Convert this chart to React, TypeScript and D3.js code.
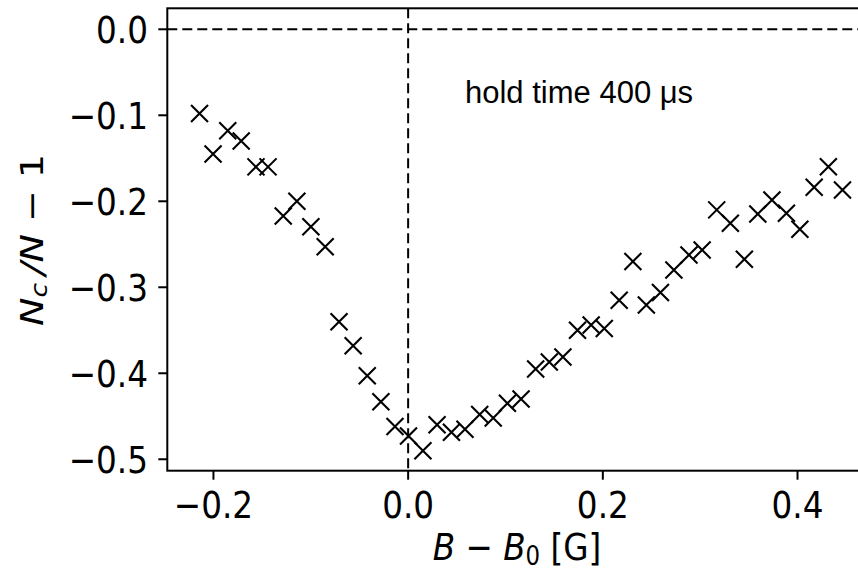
import React from "react";
import * as d3 from "d3";

const bField: number[] = [-0.2143,-0.2004,-0.1853,-0.1715,-0.1563,-0.1439,-0.1283,-0.1143,-0.0999,-0.0852,-0.071,-0.0565,-0.042,-0.028,-0.0135,0.0004,0.0152,0.0297,0.0445,0.0584,0.0735,0.0874,0.102,0.116,0.131,0.145,0.159,0.174,0.188,0.2015,0.2168,0.2309,0.2447,0.2592,0.273,0.2885,0.302,0.317,0.331,0.3454,0.3592,0.3737,0.3886,0.4024,0.4171,0.4317,0.4462];
const ratio: number[] = [-0.098,-0.145,-0.118,-0.130,-0.160,-0.160,-0.217,-0.200,-0.2295,-0.2528,-0.340,-0.368,-0.403,-0.433,-0.462,-0.473,-0.490,-0.460,-0.4686,-0.465,-0.448,-0.452,-0.435,-0.430,-0.395,-0.387,-0.381,-0.350,-0.344,-0.348,-0.315,-0.270,-0.3206,-0.306,-0.280,-0.2624,-0.2566,-0.210,-0.2256,-0.2674,-0.2148,-0.1985,-0.214,-0.2326,-0.1837,-0.1598,-0.1869];
const xTicks: number[] = [-0.2, 0.0, 0.2, 0.4];
const yTicks: number[] = [0.0, -0.1, -0.2, -0.3, -0.4, -0.5];
const annotation = "hold time 400 μs";

const W = 858, H = 570;
const L = 167.3, R = 868, T = 8.3, B = 470.7;

const fmt = (v: number) => {
  const s = Math.abs(v).toFixed(1);
  return v < -1e-9 ? "\u2212" + s : s;
};

export default function App() {
  const x = d3.scaleLinear().domain([-0.2474, 0.4724]).range([L, R]);
  const y = d3.scaleLinear().domain([-0.5133, 0.0244]).range([B, T]);
  const tickFont = "DejaVu Sans";
  const fs = 38;
  const sx = 0.86;
  const m = 8.5;
  return (
    <svg width={W} height={H} style={{ position: "absolute", left: 0, top: 0, background: "#fff" }}>
      <rect x={0} y={0} width={W} height={H} fill="#fff" />
      {/* reference lines */}
      <line x1={L} x2={R} y1={y(0)} y2={y(0)} stroke="#000" strokeWidth={2} strokeDasharray="10,5" />
      <line x1={x(0)} x2={x(0)} y1={T} y2={B} stroke="#000" strokeWidth={2} strokeDasharray="10,5" />
      {/* markers */}
      {bField.map((bv, i) => {
        const cx = x(bv), cy = y(ratio[i]);
        return (
          <path key={i} d={`M${cx - m},${cy - m}L${cx + m},${cy + m}M${cx - m},${cy + m}L${cx + m},${cy - m}`} stroke="#000" strokeWidth={2.1} fill="none" />
        );
      })}
      {/* spines */}
      <rect x={L} y={T} width={R - L} height={B - T} fill="none" stroke="#000" strokeWidth={2} />
      {/* x ticks */}
      {xTicks.map((t) => (
        <g key={"x" + t}>
          <line x1={x(t)} x2={x(t)} y1={B} y2={B + 9} stroke="#000" strokeWidth={2} />
          <g transform={`translate(${x(t)},${517.5}) scale(${sx},1)`}>
            <text x={0} y={0} textAnchor="middle" fontFamily={tickFont} fontSize={fs} fill="#000">{fmt(t)}</text>
          </g>
        </g>
      ))}
      {yTicks.map((t) => (
        <g key={"y" + t}>
          <line x1={L - 9} x2={L} y1={y(t)} y2={y(t)} stroke="#000" strokeWidth={2} />
          <g transform={`translate(${148},${y(t) + 13.8}) scale(${sx},1)`}>
            <text x={0} y={0} textAnchor="end" fontFamily={tickFont} fontSize={fs} fill="#000">{fmt(t)}</text>
          </g>
        </g>
      ))}
      {/* x label */}
      <g transform={`translate(517,560) scale(${sx},1)`}>
        <text x={0} y={0} textAnchor="middle" fontFamily={tickFont} fontSize={fs} fill="#000">
          <tspan fontStyle="italic">B</tspan>
          <tspan>{" \u2212 "}</tspan>
          <tspan fontStyle="italic">B</tspan>
          <tspan fontSize={fs * 0.7} dy={5}>0</tspan>
          <tspan dy={-5}>{" [G]"}</tspan>
        </text>
      </g>
      {/* y label */}
      <g transform={`translate(43,240) rotate(-90) scale(1,${sx})`}>
        <text x={0} y={0} textAnchor="middle" fontFamily={tickFont} fontSize={fs} fill="#000">
          <tspan fontStyle="italic">N</tspan>
          <tspan fontStyle="italic" fontSize={fs * 0.7} dy={5}>c</tspan>
          <tspan dy={-5} fontStyle="italic">{"\u2009/N"}</tspan>
          <tspan>{"  \u2212  1"}</tspan>
        </text>
      </g>
      {/* annotation */}
      <text x={465} y={103} fontFamily="Liberation Sans" fontSize={31} fill="#000">{annotation}</text>
    </svg>
  );
}
